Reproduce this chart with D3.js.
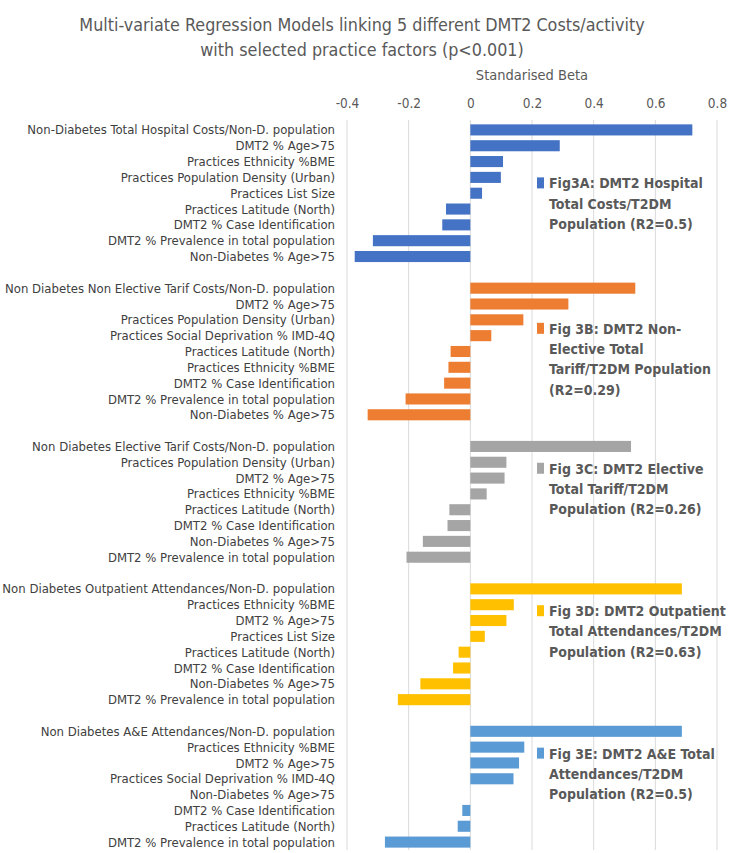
<!DOCTYPE html>
<html><head><meta charset="utf-8">
<script src="https://cdn.jsdelivr.net/npm/d3@7"></script>
<style>
body{margin:0;background:#fff;}
text{font-family:"Liberation Sans Narrow","DejaVu Sans Condensed","Liberation Sans",sans-serif;}
</style></head><body>
<svg id="chart" width="734" height="853"></svg>
<script>
const titleLines = ["Multi-variate Regression Models linking 5 different DMT2 Costs/activity","with selected practice factors (p<0.001)"];
const axisTitle = "Standarised Beta";
const tickValues = [-0.4,-0.2,0,0.2,0.4,0.6,0.8];
const tickLabels = ["-0.4","-0.2","0","0.2","0.4","0.6","0.8"];

const labelsA = ["Non-Diabetes Total Hospital Costs/Non-D. population","DMT2 % Age>75","Practices Ethnicity %BME","Practices Population Density (Urban)","Practices List Size","Practices Latitude (North)","DMT2 % Case Identification","DMT2 % Prevalence in total population","Non-Diabetes % Age>75"];
const valuesA = [0.72,0.29,0.106,0.099,0.038,-0.079,-0.091,-0.316,-0.375];
const legendA = ["Fig3A: DMT2 Hospital","Total Costs/T2DM","Population (R2=0.5)"];

const labelsB = ["Non Diabetes Non Elective Tarif Costs/Non-D. population","DMT2 % Age>75","Practices Population Density (Urban)","Practices Social Deprivation % IMD-4Q","Practices Latitude (North)","Practices Ethnicity %BME","DMT2 % Case Identification","DMT2 % Prevalence in total population","Non-Diabetes % Age>75"];
const valuesB = [0.535,0.318,0.172,0.068,-0.064,-0.071,-0.085,-0.21,-0.333];
const legendB = ["Fig 3B: DMT2 Non-","Elective Total","Tariff/T2DM Population","(R2=0.29)"];

const labelsC = ["Non Diabetes Elective Tarif Costs/Non-D. population","Practices Population Density (Urban)","DMT2 % Age>75","Practices Ethnicity %BME","Practices Latitude (North)","DMT2 % Case Identification","Non-Diabetes % Age>75","DMT2 % Prevalence in total population"];
const valuesC = [0.521,0.117,0.111,0.053,-0.068,-0.074,-0.154,-0.207];
const legendC = ["Fig 3C: DMT2 Elective","Total Tariff/T2DM","Population (R2=0.26)"];

const labelsD = ["Non Diabetes Outpatient Attendances/Non-D. population","Practices Ethnicity %BME","DMT2 % Age>75","Practices List Size","Practices Latitude (North)","DMT2 % Case Identification","Non-Diabetes % Age>75","DMT2 % Prevalence in total population"];
const valuesD = [0.686,0.141,0.117,0.047,-0.038,-0.056,-0.162,-0.235];
const legendD = ["Fig 3D: DMT2 Outpatient","Total Attendances/T2DM","Population (R2=0.63)"];

const labelsE = ["Non Diabetes A&E Attendances/Non-D. population","Practices Ethnicity %BME","DMT2 % Age>75","Practices Social Deprivation % IMD-4Q","Non-Diabetes % Age>75","DMT2 % Case Identification","Practices Latitude (North)","DMT2 % Prevalence in total population"];
const valuesE = [0.686,0.175,0.158,0.140,0,-0.026,-0.041,-0.277];
const legendE = ["Fig 3E: DMT2 A&E Total","Attendances/T2DM","Population (R2=0.5)"];

const groupColors = ["#4472C4","#ED7D31","#A5A5A5","#FFC000","#5B9BD5"];

const groups = [
  {labels:labelsA, values:valuesA, legend:legendA},
  {labels:labelsB, values:valuesB, legend:legendB},
  {labels:labelsC, values:valuesC, legend:legendC},
  {labels:labelsD, values:valuesD, legend:legendD},
  {labels:labelsE, values:valuesE, legend:legendE}
];

const rows = [];
groups.forEach((g,gi)=>{
  if(gi>0) rows.push({id:"gap"+gi, blank:true});
  g.labels.forEach((l,i)=>rows.push({id:gi+"_"+i, label:l, value:g.values[i], group:gi}));
});

const svg = d3.select("#chart");
const x = d3.scaleLinear().domain([-0.4,0.8]).range([347,717]);
const y = d3.scaleBand().domain(rows.map(r=>r.id)).range([122,850]).paddingInner(0.3).paddingOuter(0.15);

svg.append("g").selectAll("text").data(titleLines).join("text")
  .attr("x",362).attr("y",(d,i)=>31+i*25).attr("text-anchor","middle")
  .attr("font-size",17.8).attr("fill","#595959").text(d=>d);

svg.append("text").attr("x",532).attr("y",80).attr("text-anchor","middle")
  .attr("font-size",14.5).attr("fill","#595959").text(axisTitle);

svg.append("g").selectAll("line").data(tickValues).join("line")
  .attr("x1",d=>x(d)).attr("x2",d=>x(d)).attr("y1",120).attr("y2",850)
  .attr("stroke","#d9d9d9").attr("stroke-width",1);

const ax = svg.append("g").attr("transform","translate(0,108)")
  .call(d3.axisTop(x).tickValues(tickValues).tickSize(0).tickPadding(0).tickFormat((d,i)=>tickLabels[i]));
ax.select(".domain").remove();
ax.selectAll("text").attr("font-size",13.5).attr("fill","#595959").attr("font-family",null);

const dataRows = rows.filter(r=>!r.blank);
svg.append("g").selectAll("rect").data(dataRows).join("rect")
  .attr("x",d=>x(Math.min(0,d.value))).attr("width",d=>Math.abs(x(d.value)-x(0)))
  .attr("y",d=>y(d.id)).attr("height",y.bandwidth())
  .attr("fill",d=>groupColors[d.group]);

svg.append("g").selectAll("text").data(dataRows).join("text")
  .attr("x",335).attr("y",d=>y(d.id)+y.bandwidth()/2).attr("dy","0.35em")
  .attr("text-anchor","end").attr("font-size",13).attr("fill","#404040").text(d=>d.label);

groups.forEach((g,gi)=>{
  const lh = 20.3;
  const gy = (gi===0)? y("0_3")+y.bandwidth()/2+6 : (gi===1? y("1_2")+y.bandwidth()/2+9 : y(gi+"_1")+y.bandwidth()/2+6.5);
  const lg = svg.append("g");
  lg.append("rect").attr("x",537).attr("y",gy-6).attr("width",7).attr("height",11).attr("fill",groupColors[gi]);
  lg.selectAll("text").data(g.legend).join("text")
    .attr("x",549).attr("y",(d,i)=>gy+i*lh).attr("dy","0.35em")
    .attr("font-size",14).attr("font-weight","bold").attr("fill","#595959").text(d=>d);
});
</script></body></html>
